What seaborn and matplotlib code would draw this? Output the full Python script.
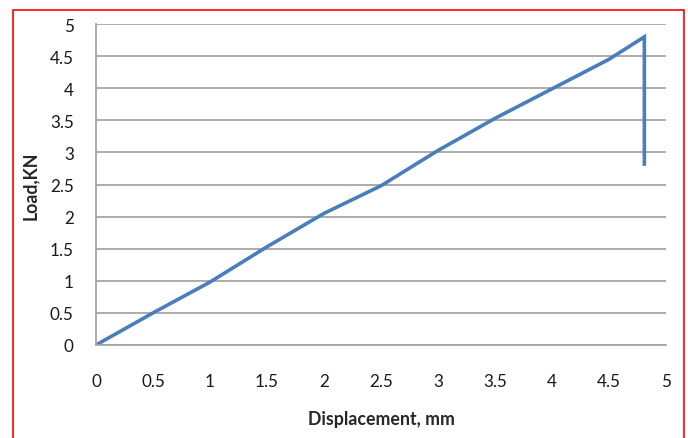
import matplotlib
matplotlib.use("Agg")
import matplotlib.pyplot as plt
import matplotlib.patches as patches
import seaborn as sns
import pandas as pd

displacement = [0, 0.5, 1.0, 1.5, 2.0, 2.5, 3.0, 3.5, 4.0, 4.5, 4.81, 4.81]
load = [0, 0.5, 0.98, 1.53, 2.05, 2.48, 3.03, 3.53, 3.99, 4.45, 4.80, 2.79]
x_ticks = [0, 0.5, 1, 1.5, 2, 2.5, 3, 3.5, 4, 4.5, 5]
y_ticks = [0, 0.5, 1, 1.5, 2, 2.5, 3, 3.5, 4, 4.5, 5]
x_label = "Displacement, mm"
y_label = "Load,KN"

sns.set_style("white")
plt.rcParams['font.family'] = ['Lato', 'DejaVu Sans']

df = pd.DataFrame({"x": displacement, "y": load, "order": range(len(load))})

fig = plt.figure(figsize=(6.88, 4.39), dpi=100)
ax = fig.add_axes([96/688, 93/439, 570/688, 321/439])

grid_c = "#A6A6A6"
ax.set_xlim(0, 5)
ax.set_ylim(0, 5)
ax.set_yticks(y_ticks)
ax.set_xticks(x_ticks)
ax.set_yticklabels([f"{t:g}" for t in y_ticks])
ax.set_xticklabels([f"{t:g}" for t in x_ticks])
ax.yaxis.grid(True, color=grid_c, linewidth=1.3)
ax.xaxis.grid(False)
ax.set_axisbelow(True)

sns.lineplot(data=df, x="x", y="y", sort=False, estimator=None, ax=ax,
             color="#4A7EBB", linewidth=2.6, solid_capstyle="butt", solid_joinstyle="miter")

for s in ["top", "right"]:
    ax.spines[s].set_visible(False)
for s in ["left", "bottom"]:
    ax.spines[s].set_color(grid_c)
    ax.spines[s].set_linewidth(1.3)

ax.tick_params(axis="y", direction="in", length=3, color=grid_c, pad=16, labelsize=12.3, labelcolor="#1a1a1a")
ax.tick_params(axis="x", length=0, pad=20, labelsize=12.3, labelcolor="#1a1a1a")

ax.set_xlabel(x_label, fontsize=12.8, fontweight="bold", labelpad=15)
ax.set_ylabel(y_label, fontsize=12.8, fontweight="bold", labelpad=8)

rect = patches.Rectangle((12.5/688, -0.05), (684-12.5)/688, (439-10.5)/439 + 0.05,
                         transform=fig.transFigure, fill=False, edgecolor="red",
                         linewidth=1.2, clip_on=False)
fig.patches.append(rect)

fig.savefig("out.png", dpi=100)
